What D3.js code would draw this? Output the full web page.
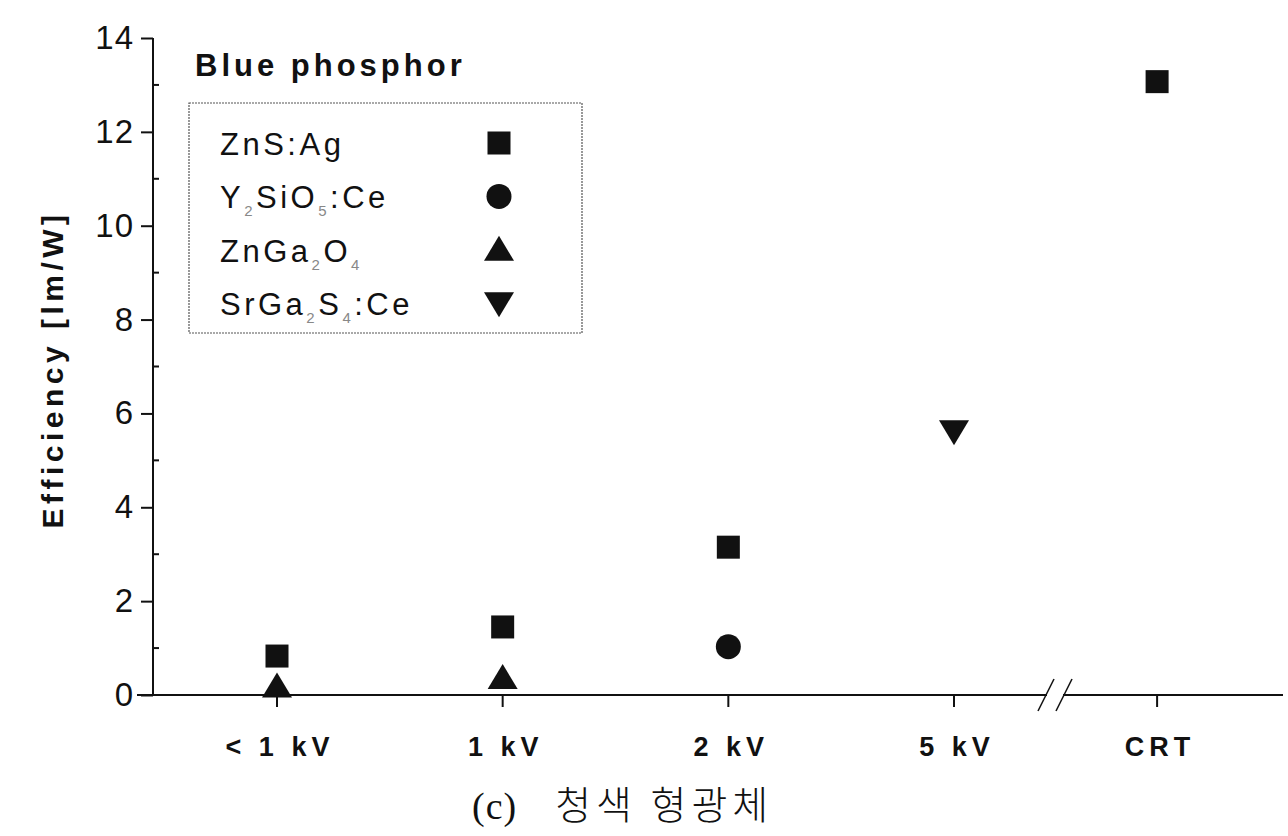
<!DOCTYPE html>
<html>
<head>
<meta charset="utf-8">
<script src="https://cdn.jsdelivr.net/npm/d3@7"></script>
<style>
  body { margin: 0; background: #fff; }
  svg { display: block; }
  text { font-family: "Liberation Sans", Arial, sans-serif; fill: #111; }
</style>
</head>
<body>
<div id="chart"></div>
<script>
// categories on the x axis (CRT sits after the axis break)
const categories = ["< 1 kV", "1 kV", "2 kV", "5 kV", "CRT"];
const yTicks = [0, 2, 4, 6, 8, 10, 12, 14];

// one array per phosphor, [category, efficiency lm/W]
const znsAg = [["< 1 kV", 0.83], ["1 kV", 1.45], ["2 kV", 3.15], ["CRT", 13.07]];
const y2sio5Ce = [["2 kV", 1.03]];
const znga2o4 = [["< 1 kV", 0.18], ["1 kV", 0.36]];
const srga2s4Ce = [["5 kV", 5.62]];

// legend label pieces: [text, isSubscript]
const series = [
  { parts: [["ZnS:Ag", 0]], symbol: "square", data: znsAg },
  { parts: [["Y", 0], ["2", 1], ["SiO", 0], ["5", 1], [":Ce", 0]], symbol: "circle", data: y2sio5Ce },
  { parts: [["ZnGa", 0], ["2", 1], ["O", 0], ["4", 1]], symbol: "triangle", data: znga2o4 },
  { parts: [["SrGa", 0], ["2", 1], ["S", 0], ["4", 1], [":Ce", 0]], symbol: "down", data: srga2s4Ce }
];

const W = 1288, H = 836;
const axisX = 153, axisY = 695, axisRight = 1283;

const svg = d3.select("#chart").append("svg")
  .attr("width", W)
  .attr("height", H);

// x: first four categories evenly spaced, CRT placed after the break
const slot = d3.scaleLinear().domain([0, 3]).range([277, 954]);
const crtSlot = 3.9;
function x(cat) {
  const i = categories.indexOf(cat);
  return cat === "CRT" ? slot(crtSlot) : slot(i);
}

const y = d3.scaleLinear().domain([0, 14]).range([axisY, 38]);

// x axis line, with a gap at the break
const breakX = 1055;
svg.append("line")
  .attr("x1", 137).attr("x2", breakX - 8)
  .attr("y1", axisY).attr("y2", axisY)
  .attr("stroke", "#111").attr("stroke-width", 2);
svg.append("line")
  .attr("x1", breakX + 8).attr("x2", axisRight)
  .attr("y1", axisY).attr("y2", axisY)
  .attr("stroke", "#111").attr("stroke-width", 2);
[-9, 9].forEach(function(dx) {
  svg.append("line")
    .attr("x1", breakX + dx - 8).attr("y1", axisY + 16)
    .attr("x2", breakX + dx + 8).attr("y2", axisY - 16)
    .attr("stroke", "#111").attr("stroke-width", 1.6);
});

// x ticks + labels
categories.forEach(function(c) {
  svg.append("line")
    .attr("x1", x(c)).attr("x2", x(c))
    .attr("y1", axisY).attr("y2", axisY + 12)
    .attr("stroke", "#111").attr("stroke-width", 2);
  svg.append("text")
    .attr("x", x(c) + 3).attr("y", 756)
    .attr("text-anchor", "middle")
    .attr("font-size", 27).attr("font-weight", "bold")
    .attr("letter-spacing", 5)
    .text(c);
});

// y axis
const yAxis = d3.axisLeft(y)
  .tickValues(yTicks)
  .tickSize(12)
  .tickPadding(7)
  .tickFormat(d3.format("d"));
const gy = svg.append("g")
  .attr("transform", `translate(${axisX},0)`)
  .call(yAxis);
gy.select(".domain").attr("stroke", "#111").attr("stroke-width", 2)
  .attr("d", `M0,${y(14)}V${axisY}`);
gy.selectAll(".tick line").attr("stroke", "#111").attr("stroke-width", 2);
gy.selectAll(".tick text")
  .attr("font-size", 33)
  .attr("letter-spacing", 1)
  .attr("font-family", "Liberation Sans, Arial, sans-serif")
  .attr("fill", "#111");

// minor ticks at odd values, pointing inward
d3.range(1, 14, 2).forEach(function(v) {
  svg.append("line")
    .attr("x1", axisX).attr("x2", axisX + 6)
    .attr("y1", y(v)).attr("y2", y(v))
    .attr("stroke", "#111").attr("stroke-width", 2);
});

// axis title
svg.append("text")
  .attr("transform", `translate(63,${y(7) + 3}) rotate(-90)`)
  .attr("text-anchor", "middle")
  .attr("font-size", 30).attr("font-weight", "bold")
  .attr("letter-spacing", 4.5)
  .text("Efficiency [lm/W]");

// chart title
svg.append("text")
  .attr("x", 195).attr("y", 76)
  .attr("font-size", 31).attr("font-weight", "bold")
  .attr("letter-spacing", 4)
  .text("Blue phosphor");

// symbols
function drawSymbol(g, kind, cx, cy) {
  if (kind === "square") {
    g.append("rect").attr("x", cx - 11.5).attr("y", cy - 11.5)
      .attr("width", 23).attr("height", 23).attr("fill", "#111");
  } else if (kind === "circle") {
    g.append("circle").attr("cx", cx).attr("cy", cy).attr("r", 12.5).attr("fill", "#111");
  } else if (kind === "triangle") {
    g.append("path").attr("d", `M${cx},${cy - 14}L${cx + 15},${cy + 11}L${cx - 15},${cy + 11}Z`).attr("fill", "#111");
  } else {
    g.append("path").attr("d", `M${cx},${cy + 14}L${cx + 15},${cy - 11}L${cx - 15},${cy - 11}Z`).attr("fill", "#111");
  }
}

const marks = svg.append("g");
series.forEach(function(s) {
  s.data.forEach(function(d) {
    drawSymbol(marks, s.symbol, x(d[0]), y(d[1]));
  });
});

// legend
const legend = svg.append("g");
legend.append("rect")
  .attr("x", 189).attr("y", 103)
  .attr("width", 393).attr("height", 230)
  .attr("fill", "none")
  .attr("stroke", "#555").attr("stroke-width", 1.2)
  .attr("stroke-dasharray", "2,1");

series.forEach(function(s, i) {
  const base = 155 + i * 53.4;
  const t = legend.append("text")
    .attr("x", 220).attr("y", base)
    .attr("font-size", 31).attr("letter-spacing", 3.5);
  let prevSub = false;
  s.parts.forEach(function(p) {
    const ts = t.append("tspan").text(p[0]);
    if (p[1]) {
      ts.attr("font-size", 15).attr("dy", 8).attr("fill", "#888");
    } else if (prevSub) {
      ts.attr("dy", -8);
    }
    prevSub = !!p[1];
  });
  drawSymbol(legend, s.symbol, 499, base - 12);
});

// caption
const cap = svg.append("text")
  .attr("x", 472).attr("y", 819);
cap.append("tspan")
  .attr("font-family", "Liberation Serif, serif")
  .attr("font-size", 38)
  .attr("letter-spacing", 1)
  .text("(c)");
cap.append("tspan")
  .attr("dx", 38)
  .attr("font-family", "Noto Sans CJK KR, sans-serif")
  .attr("font-size", 39)
  .attr("font-weight", 300)
  .attr("letter-spacing", 5)
  .text("청색 형광체");
</script>
</body>
</html>
